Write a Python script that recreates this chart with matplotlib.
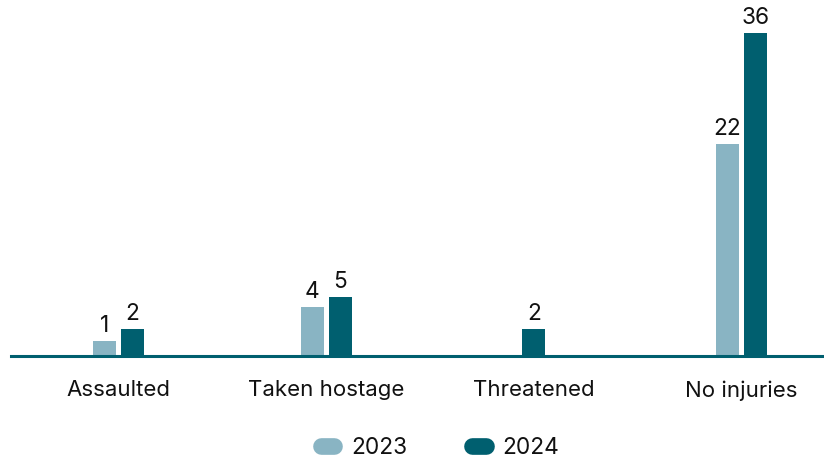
import numpy as np
import matplotlib
matplotlib.use("Agg")
import matplotlib.pyplot as plt
from matplotlib.lines import Line2D

# chart values
categories = ["Assaulted", "Taken hostage", "Threatened", "No injuries"]
years = ["2023", "2024"]
values_2023 = [1, 4, 0, 22]
values_2024 = [2, 5, 2, 36]

light = "#89b4c3"
dark = "#005f6f"
ink = "#111111"

plt.rcParams["font.family"] = ["Inter", "DejaVu Sans"]

# the bars in the source grow slower than linear: a mild power scale
power = 0.86


def fwd(v):
    return np.power(np.clip(v, 0, None), power)


def inv(v):
    return np.power(np.clip(v, 0, None), 1.0 / power)


fig = plt.figure(figsize=(8.24, 4.61), dpi=100)
ax = fig.add_axes([11 / 824, 105 / 461, 1 - 11 / 824, 356 / 461])
ax.set_yscale("function", functions=(fwd, inv))

width = 0.111
step = 0.135
for i, (a, b) in enumerate(zip(values_2023, values_2024)):
    pairs = [(v, c) for v, c in ((a, light), (b, dark)) if v > 0]
    n = len(pairs)
    for j, (v, c) in enumerate(pairs):
        x = i + (j - (n - 1) / 2) * step
        ax.bar(x, v, width=width, color=c, zorder=2)
        ax.annotate(str(v), (x, v), xytext=(0, 3), textcoords="offset points",
                    ha="center", va="bottom", fontsize=16.3, color=ink)

ax.set_xlim(-0.5176, 3.397)
ax.set_ylim(0, 40.3)
ax.set_xticks(range(len(categories)))
ax.set_xticklabels(categories, fontsize=16, color=ink)
ax.tick_params(axis="x", length=0, pad=17.5)
ax.set_yticks([])
for side in ["top", "right", "left"]:
    ax.spines[side].set_visible(False)
ax.spines["bottom"].set_color(dark)
ax.spines["bottom"].set_linewidth(2.2)
ax.spines["bottom"].set_zorder(3)

handles = [Line2D([0], [0], color=c, lw=12, solid_capstyle="round") for c in (light, dark)]
fig.legend(handles, years, loc="center", bbox_to_anchor=(440 / 824, 1 - 448 / 461),
           ncol=2, frameon=False, fontsize=16.3, handlelength=0.6,
           handletextpad=0.75, columnspacing=2.85, labelcolor=ink)

fig.savefig("out.png", dpi=100)
